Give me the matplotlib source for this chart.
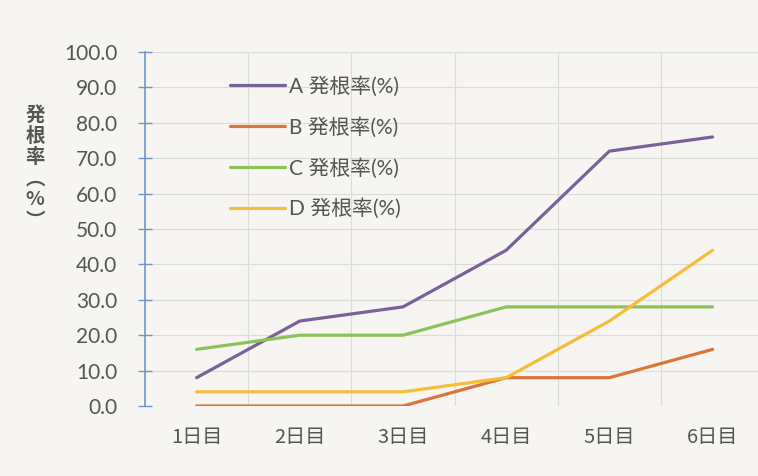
import matplotlib.pyplot as plt
from matplotlib.ticker import FixedLocator, NullFormatter

plt.rcParams['font.family'] = ['Lato', 'Noto Sans CJK JP', 'DejaVu Sans']

# data
days = ['1日目', '2日目', '3日目', '4日目', '5日目', '6日目']
rate_a = [8, 24, 28, 44, 72, 76]
rate_b = [0, 0, 0, 8, 8, 16]
rate_c = [16, 20, 20, 28, 28, 28]
rate_d = [4, 4, 4, 8, 24, 44]
labels = ['A 発根率(%)', 'B 発根率(%)', 'C 発根率(%)', 'D 発根率(%)']
colors = ['#7b6199', '#d9773b', '#8dc257', '#f4bd3a']
yticks = [0, 10, 20, 30, 40, 50, 60, 70, 80, 90, 100]

W, H = 758, 476
fig = plt.figure(figsize=(W / 100, H / 100), dpi=100)
fig.patch.set_facecolor('#f6f5f1')

left, right, bottom, top = 145, 758, 406, 52
ax = fig.add_axes([left / W, 1 - bottom / H, (right - left) / W, (bottom - top) / H])
ax.set_facecolor('none')

x = range(len(days))
for vals, lab, col in zip([rate_a, rate_b, rate_c, rate_d], labels, colors):
    ax.plot(x, vals, color=col, lw=2.3, label=lab, solid_capstyle='round')

step = 103.2
ax.set_xlim(-0.5, -0.5 + (right - left) / step)
ax.set_ylim(0, 100)

ax.set_yticks(yticks)
ax.set_yticklabels([f'{v:.1f}' for v in yticks], fontsize=15, color='#555555')
ax.set_xticks(list(x))
ax.set_xticklabels(days, fontsize=14.5, color='#555555', family=['Noto Sans CJK JP'])
ax.tick_params(axis='x', length=0, pad=15)
ax.tick_params(axis='y', direction='inout', length=10, width=1, color='#6f95c6', pad=15)

# grid: horizontal at each tick, vertical at category boundaries
ax.xaxis.set_minor_locator(FixedLocator([i + 0.5 for i in range(6)]))
ax.xaxis.set_minor_formatter(NullFormatter())
ax.tick_params(axis='x', which='minor', length=0)
ax.grid(axis='y', color='#dcdcd6', lw=0.8)
ax.grid(axis='x', which='minor', color='#dcdcd6', lw=0.8)
ax.set_axisbelow(True)

for s in ['top', 'right', 'bottom']:
    ax.spines[s].set_visible(False)
ax.spines['left'].set_color('#6f95c6')
ax.spines['left'].set_linewidth(1.2)

leg = ax.legend(loc='upper left', bbox_to_anchor=(0.108, 0.985), frameon=False,
                handlelength=2.65, handletextpad=0.2, labelspacing=0.97,
                prop={'family': ['Lato', 'Noto Sans CJK JP'], 'size': 15})
for t in leg.get_texts():
    t.set_color('#555555')

fig.text(35 / W, 1 - 168 / H, '発\n根\n率\n︵\n%\n︶', fontsize=14, fontweight='bold',
         color='#555555', ha='center', va='center', linespacing=1.15,
         family=['Noto Sans CJK JP'])

fig.savefig('out.png', dpi=100, facecolor=fig.get_facecolor())
